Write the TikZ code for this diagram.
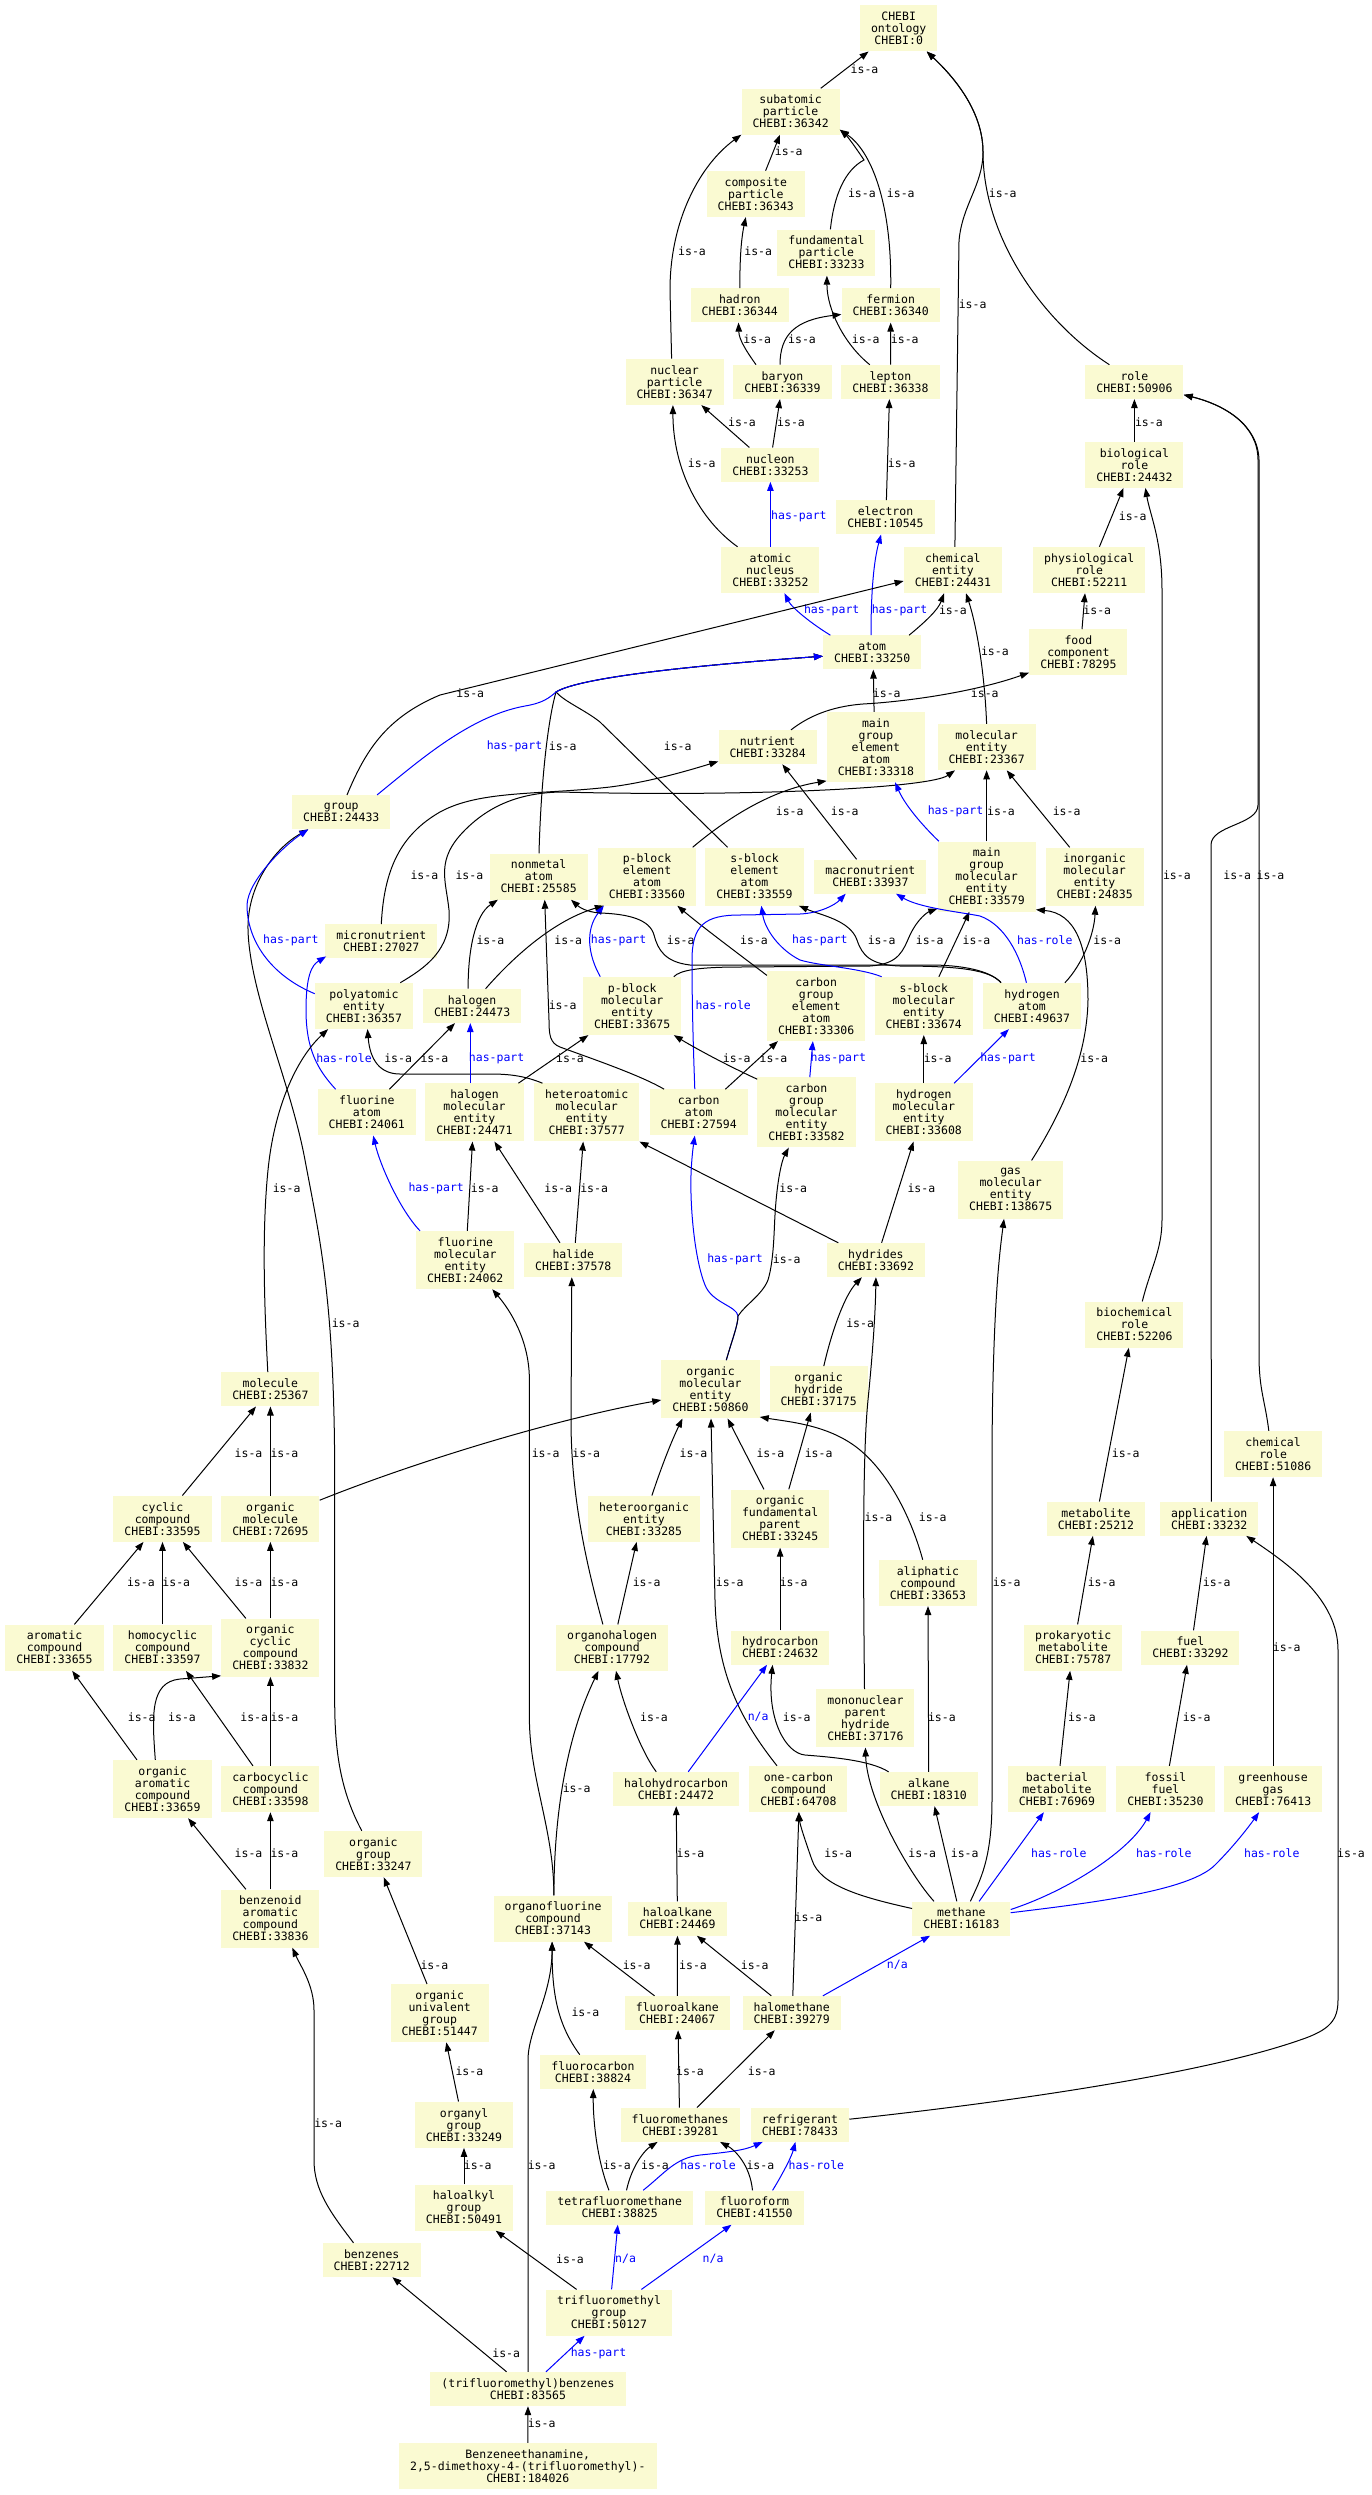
\documentclass[tikz,border=0pt]{standalone}
\usepackage{fontspec}
\setmonofont{DejaVu Sans Mono}
\usetikzlibrary{arrows.meta}
\definecolor{Pale}{RGB}{250,250,210}
\definecolor{Rel}{RGB}{0,0,255}

\begin{document}
\begin{tikzpicture}[x=1pt,y=-1pt,
  ent/.style={fill=Pale,font=\ttfamily\fontsize{11.5}{12}\selectfont,align=center,inner xsep=11pt,inner ysep=2pt},
  two/.style={ent,minimum height=34pt},
  three/.style={ent,minimum height=46pt},
  four/.style={ent,minimum height=58pt},
  five/.style={ent,minimum height=70pt},
  isa/.style={-{Triangle[length=9pt,width=6.5pt]},line width=1pt},
  rel/.style={isa,Rel},
  lab/.style={font=\ttfamily\fontsize{11.5}{12}\selectfont,inner sep=0pt},
  rlab/.style={lab,text=Rel}]
\path[fill=white] (0,0) rectangle (1372,2495);

\node[three] (ont) at (898.7,28.3) {CHEBI\\ontology\\CHEBI:0};
\node[three] (subat) at (790.6,111.5) {subatomic\\particle\\CHEBI:36342};
\node[three] (compp) at (755.8,193.9) {composite\\particle\\CHEBI:36343};
\node[three] (fundp) at (826.4,252.5) {fundamental\\particle\\CHEBI:33233};
\node[two] (hadron) at (739.8,305.4) {hadron\\CHEBI:36344};
\node[two] (fermion) at (890.7,305.4) {fermion\\CHEBI:36340};
\node[three] (nucpart) at (674.6,381.9) {nuclear\\particle\\CHEBI:36347};
\node[two] (baryon) at (782.5,381.9) {baryon\\CHEBI:36339};
\node[two] (lepton) at (890.5,381.9) {lepton\\CHEBI:36338};
\node[two] (role) at (1134.4,381.9) {role\\CHEBI:50906};
\node[two] (nucleon) at (770.4,464.7) {nucleon\\CHEBI:33253};
\node[three] (biorole) at (1134.4,464.7) {biological\\role\\CHEBI:24432};
\node[two] (electron) at (885.5,517.3) {electron\\CHEBI:10545};
\node[three] (nucleus) at (770.4,570) {atomic\\nucleus\\CHEBI:33252};
\node[three] (chement) at (952.9,570) {chemical\\entity\\CHEBI:24431};
\node[three] (physrole) at (1089.2,570) {physiological\\role\\CHEBI:52211};
\node[two] (atom) at (872.2,652.4) {atom\\CHEBI:33250};
\node[three] (foodcomp) at (1078.4,652.4) {food\\component\\CHEBI:78295};
\node[two] (nutrient) at (767.6,747.1) {nutrient\\CHEBI:33284};
\node[five] (mgeatom) at (875.9,747.1) {main\\group\\element\\atom\\CHEBI:33318};
\node[three] (molent) at (986.6,747.1) {molecular\\entity\\CHEBI:23367};
\node[two] (group) at (341.3,812.1) {group\\CHEBI:24433};
\node[three] (nonmetal) at (538.6,876.5) {nonmetal\\atom\\CHEBI:25585};
\node[four] (pbatom) at (647,876.5) {p-block\\element\\atom\\CHEBI:33560};
\node[four] (sbatom) at (754.5,876.5) {s-block\\element\\atom\\CHEBI:33559};
\node[two] (macronut) at (870.4,876.5) {macronutrient\\CHEBI:33937};
\node[five] (mgment) at (986.6,876.5) {main\\group\\molecular\\entity\\CHEBI:33579};
\node[four] (inorgment) at (1094.6,876.5) {inorganic\\molecular\\entity\\CHEBI:24835};
\node[two] (micronut) at (381.3,941.2) {micronutrient\\CHEBI:27027};
\node[three] (polyat) at (364,1005.9) {polyatomic\\entity\\CHEBI:36357};
\node[two] (halogen) at (472.1,1005.9) {halogen\\CHEBI:24473};
\node[four] (pbment) at (632.2,1005.9) {p-block\\molecular\\entity\\CHEBI:33675};
\node[five] (cgeatom) at (816.2,1005.9) {carbon\\group\\element\\atom\\CHEBI:33306};
\node[four] (sbment) at (923.8,1005.9) {s-block\\molecular\\entity\\CHEBI:33674};
\node[three] (hatom) at (1032,1005.9) {hydrogen\\atom\\CHEBI:49637};
\node[three] (fatom) at (366.8,1112.4) {fluorine\\atom\\CHEBI:24061};
\node[four] (halment) at (474.5,1112.4) {halogen\\molecular\\entity\\CHEBI:24471};
\node[four] (hetment) at (586.7,1112.4) {heteroatomic\\molecular\\entity\\CHEBI:37577};
\node[three] (catom) at (698.7,1112.4) {carbon\\atom\\CHEBI:27594};
\node[five] (cgment) at (806.5,1112.4) {carbon\\group\\molecular\\entity\\CHEBI:33582};
\node[four] (hment) at (923.8,1112.4) {hydrogen\\molecular\\entity\\CHEBI:33608};
\node[four] (gasment) at (1010.7,1189.6) {gas\\molecular\\entity\\CHEBI:138675};
\node[four] (fment) at (465.3,1260) {fluorine\\molecular\\entity\\CHEBI:24062};
\node[two] (halide) at (573.3,1260) {halide\\CHEBI:37578};
\node[two] (hydrides) at (875.9,1260) {hydrides\\CHEBI:33692};
\node[three] (biochrole) at (1134.4,1324.6) {biochemical\\role\\CHEBI:52206};
\node[two] (molecule) at (270.4,1389.3) {molecule\\CHEBI:25367};
\node[four] (orgment) at (710.5,1389.3) {organic\\molecular\\entity\\CHEBI:50860};
\node[three] (orghyd) at (818.6,1389.3) {organic\\hydride\\CHEBI:37175};
\node[three] (chemrole) at (1273.1,1454) {chemical\\role\\CHEBI:51086};
\node[three] (cyclic) at (162.5,1518.7) {cyclic\\compound\\CHEBI:33595};
\node[three] (orgmol) at (270.4,1518.7) {organic\\molecule\\CHEBI:72695};
\node[three] (hetorg) at (644,1518.7) {heteroorganic\\entity\\CHEBI:33285};
\node[four] (orgfp) at (780.1,1518.5) {organic\\fundamental\\parent\\CHEBI:33245};
\node[two] (metabolite) at (1096,1518.7) {metabolite\\CHEBI:25212};
\node[two] (application) at (1209.3,1518.7) {application\\CHEBI:33232};
\node[three] (aliphatic) at (927.9,1582.9) {aliphatic\\compound\\CHEBI:33653};
\node[three] (aromatic) at (54.5,1647.6) {aromatic\\compound\\CHEBI:33655};
\node[three] (homocyc) at (162.5,1647.6) {homocyclic\\compound\\CHEBI:33597};
\node[four] (orgcyc) at (270.4,1647.6) {organic\\cyclic\\compound\\CHEBI:33832};
\node[three] (orghal) at (612,1647.6) {organohalogen\\compound\\CHEBI:17792};
\node[two] (hydrocarbon) at (780.1,1647.6) {hydrocarbon\\CHEBI:24632};
\node[three] (prokmet) at (1073.2,1647.6) {prokaryotic\\metabolite\\CHEBI:75787};
\node[two] (fuel) at (1190.4,1647.6) {fuel\\CHEBI:33292};
\node[four] (mononuc) at (865.4,1718.3) {mononuclear\\parent\\hydride\\CHEBI:37176};
\node[four] (orgarom) at (162.5,1789) {organic\\aromatic\\compound\\CHEBI:33659};
\node[three] (carbocyc) at (270.4,1789) {carbocyclic\\compound\\CHEBI:33598};
\node[two] (halohyd) at (676,1789) {halohydrocarbon\\CHEBI:24472};
\node[three] (onecarbon) at (798.4,1789) {one-carbon\\compound\\CHEBI:64708};
\node[two] (alkane) at (928.8,1789) {alkane\\CHEBI:18310};
\node[three] (bactmet) at (1057,1789) {bacterial\\metabolite\\CHEBI:76969};
\node[three] (fossil) at (1165.5,1789) {fossil\\fuel\\CHEBI:35230};
\node[three] (greenhouse) at (1273.1,1789) {greenhouse\\gas\\CHEBI:76413};
\node[three] (orggroup) at (373.4,1854) {organic\\group\\CHEBI:33247};
\node[four] (benzenoid) at (270.4,1918.5) {benzenoid\\aromatic\\compound\\CHEBI:33836};
\node[three] (orgfluor) at (553,1918.5) {organofluorine\\compound\\CHEBI:37143};
\node[two] (haloalkane) at (677.5,1918.5) {haloalkane\\CHEBI:24469};
\node[two] (methane) at (961.4,1918.5) {methane\\CHEBI:16183};
\node[four] (orgunival) at (439.7,2013.1) {organic\\univalent\\group\\CHEBI:51447};
\node[two] (fluoroalk) at (677.3,2013) {fluoroalkane\\CHEBI:24067};
\node[two] (halometh) at (791.7,2013) {halomethane\\CHEBI:39279};
\node[two] (fluorocarbon) at (593,2071.8) {fluorocarbon\\CHEBI:38824};
\node[three] (organyl) at (464,2124.7) {organyl\\group\\CHEBI:33249};
\node[two] (fluorometh) at (680.1,2124.7) {fluoromethanes\\CHEBI:39281};
\node[two] (refrig) at (800,2124.7) {refrigerant\\CHEBI:78433};
\node[three] (haloalkyl) at (464,2207.5) {haloalkyl\\group\\CHEBI:50491};
\node[two] (tetrafm) at (619.7,2207.5) {tetrafluoromethane\\CHEBI:38825};
\node[two] (fluoroform) at (754.5,2207.5) {fluoroform\\CHEBI:41550};
\node[two] (benzenes) at (371.7,2260) {benzenes\\CHEBI:22712};
\node[three] (tfmgroup) at (609,2312.6) {trifluoromethyl\\group\\CHEBI:50127};
\node[two] (tfmbenz) at (528,2389) {(trifluoromethyl)benzenes\\CHEBI:83565};
\node[three] (target) at (527.8,2466) {Benzeneethanamine,\\2,5-dimethoxy-4-(trifluoromethyl)-\\CHEBI:184026};

\draw[isa] (subat) -- (ont) node[lab,at={(864.5,69)}] {is-a};
\draw[isa] ([xshift=2pt]chement.north) -- (959,241) .. controls (962,205) and (983,185) .. (983,152) .. controls (983,112) and (955,78) .. ([xshift=28pt]ont.south) node[lab,at={(972.6,304.6)}] {is-a};
\draw[isa] ([xshift=-25pt]role.north) .. controls (1040,320) and (983,235) .. (983,152) .. controls (983,112) and (955,78) .. ([xshift=28pt]ont.south) node[lab,at={(1002.8,193.3)}] {is-a};
\draw[isa] ([xshift=9.8pt]compp.north) -- ([xshift=-10.6pt]subat.south) node[lab,at={(788.8,151.5)}] {is-a};
\draw[isa] ([xshift=4pt]fundp.north) .. controls (834,195) and (845,170) .. (864,160) .. controls (856,148) and (848,137) .. ([yshift=5pt]subat.south east) node[lab,at={(861.9,193.3)}] {is-a};
\draw[isa] (fermion.north) .. controls (892,200) and (870,150) .. ([yshift=5pt]subat.south east) node[lab,at={(900.8,193.3)}] {is-a};
\draw[isa] (hadron.north) .. controls (739.8,260) and (741,240) .. ([xshift=-10pt]compp.south) node[lab,at={(758.2,251)}] {is-a};
\draw[isa] ([xshift=-3pt]nucpart.north) -- (670,290) .. controls (670,220) and (700,165) .. (subat.south west) node[lab,at={(692,251)}] {is-a};
\draw[isa] ([xshift=-26.5pt]baryon.north) .. controls (747,352) and (739,340) .. ([xshift=-1.3pt]hadron.south) node[lab,at={(757.3,339.5)}] {is-a};
\draw[isa] ([xshift=-2.5pt]baryon.north) .. controls (780,335) and (795,320) .. ([yshift=-9pt]fermion.west) node[lab,at={(802,339.5)}] {is-a};
\draw[isa] ([xshift=-20.7pt]lepton.north) .. controls (845,345) and (827,310) .. ([xshift=0.5pt]fundp.south) node[lab,at={(865.8,339.5)}] {is-a};
\draw[isa] (lepton) -- (fermion) node[lab,at={(904.8,339.5)}] {is-a};
\draw[isa] ([xshift=-21pt]nucleon.north) -- ([xshift=26.7pt]nucpart.south) node[lab,at={(742,422.3)}] {is-a};
\draw[isa] ([xshift=2.2pt]nucleon.north) -- ([xshift=-2.5pt]baryon.south) node[lab,at={(791,422.3)}] {is-a};
\draw[isa] ([xshift=0.9pt]electron.north) -- ([xshift=-1.1pt]lepton.south) node[lab,at={(901.7,462.9)}] {is-a};
\draw[isa] ([xshift=-32.8pt]nucleus.north) .. controls (700,520) and (673,470) .. ([xshift=-1.7pt]nucpart.south) node[lab,at={(701.8,462.9)}] {is-a};
\draw[rel] (nucleus) -- (nucleon) node[rlab,at={(798.9,516.3)}] {has-part};
\draw[isa] (biorole) -- (role) node[lab,at={(1148.9,422.3)}] {is-a};
\draw[isa] ([xshift=10.2pt]physrole.north) -- ([xshift=-10.9pt]biorole.south) node[lab,at={(1132.7,516.3)}] {is-a};
\draw[isa] ([xshift=3.6pt]foodcomp.north) -- ([xshift=-4.2pt]physrole.south) node[lab,at={(1097.3,610.3)}] {is-a};
\draw[isa] ([xshift=7.9pt]biochrole.north) .. controls (1150,1270) and (1162,1250) .. (1162,1220) -- (1162,590) .. controls (1162,540) and (1150,515) .. ([xshift=11pt]biorole.south) node[lab,at={(1176.9,875.5)}] {is-a};
\draw[isa] ([xshift=2pt]application.north) -- (1211,845) .. controls (1211,825) and (1258,825) .. (1258,805) -- (1258,460) .. controls (1258,425) and (1225,405) .. ([yshift=4.3pt]role.south east) node[lab,at={(1237.3,875.5)}] {is-a};
\draw[isa] ([xshift=-4.3pt]chemrole.north) .. controls (1265,1400) and (1259,1390) .. (1259,1355) -- (1259,460) .. controls (1258,425) and (1225,405) .. ([yshift=4.3pt]role.south east) node[lab,at={(1270.5,875.5)}] {is-a};
\draw[isa] ([xshift=36.9pt]atom.north) .. controls (925,622) and (938,610) .. ([xshift=-8.8pt]chement.south) node[lab,at={(952.9,610.3)}] {is-a};
\draw[isa] (molent.north) .. controls (985,680) and (978,630) .. ([xshift=13.1pt]chement.south) node[lab,at={(994.9,651)}] {is-a};
\draw[rel] ([xshift=-41.8pt]atom.north) .. controls (812,624) and (792,608) .. ([xshift=14pt]nucleus.south) node[rlab,at={(831.7,610.3)}] {has-part};
\draw[rel] ([xshift=-1.2pt]atom.north) .. controls (871,590) and (874,560) .. ([xshift=-4.4pt]electron.south) node[rlab,at={(899.5,610.3)}] {has-part};
\draw[isa] ([xshift=5.7pt]group.north) .. controls (365,752) and (385,718) .. (440,695) -- ([yshift=-11pt]chement.west) node[lab,at={(470.3,693.5)}] {is-a};
\draw[isa] ([xshift=0.4pt]nonmetal.north) .. controls (541,780) and (548,720) .. (556,692) .. controls (580,677) and (700,665) .. ([yshift=-3.8pt]atom.west) node[lab,at={(562.7,746.7)}] {is-a};
\draw[isa] ([xshift=-26.9pt]sbatom.north) -- (600,722) .. controls (585,710) and (565,702) .. (556,692) .. controls (580,677) and (700,665) .. ([yshift=-3.8pt]atom.west) node[lab,at={(677.7,746.7)}] {is-a};
\draw[rel] ([xshift=35.8pt]group.north) .. controls (420,760) and (470,716) .. (525,706) .. controls (543,703) and (549,698) .. (556,692) .. controls (580,677) and (700,665) .. ([yshift=-3.8pt]atom.west) node[rlab,at={(514.5,746.2)}] {has-part};
\draw[isa] ([xshift=-1.8pt]mgeatom.north) -- ([xshift=1.1pt]atom.south) node[lab,at={(886.8,693.5)}] {is-a};
\draw[isa] ([xshift=23.4pt]nutrient.north) .. controls (810,715) and (835,705) .. (870,703.6) .. controls (920,700) and (980,690) .. ([yshift=3pt]foodcomp.south west) node[lab,at={(984.8,693.5)}] {is-a};
\draw[isa] (micronut.north) .. controls (384,870) and (400,835) .. (440,812) .. controls (480,790) and (540,795) .. (610,787) .. controls (650,782) and (690,770) .. ([yshift=-14.3pt]nutrient.west) node[lab,at={(424.4,875.1)}] {is-a};
\draw[isa] ([xshift=36.3pt]polyat.north) .. controls (425,968) and (452,950) .. (449,910) .. controls (446,880) and (435,860) .. (465,830) .. controls (490,805) and (520,793) .. (560,792) .. controls (750,797) and (930,788) .. ([xshift=-31.6pt]molent.south) node[lab,at={(469.4,875.1)}] {is-a};
\draw[isa] ([xshift=45.6pt]pbatom.north) .. controls (725,820) and (770,790) .. ([yshift=1.4pt]mgeatom.south west) node[lab,at={(789.7,811.3)}] {is-a};
\draw[isa] ([xshift=-13.8pt]macronut.north) -- ([xshift=14.7pt]nutrient.south) node[lab,at={(844.8,811.3)}] {is-a};
\draw[rel] ([xshift=-47.7pt]mgment.north) .. controls (922,825) and (905,805) .. ([xshift=19.2pt]mgeatom.south) node[rlab,at={(955.5,811.3)}] {has-part};
\draw[isa] (mgment) -- (molent) node[lab,at={(1001,811.3)}] {is-a};
\draw[isa] ([xshift=-24.9pt]inorgment.north) -- ([xshift=20.1pt]molent.south) node[lab,at={(1066.6,811.3)}] {is-a};
\draw[isa] ([xshift=-4pt]halogen.north) .. controls (468,950) and (475,915) .. ([xshift=-40.7pt]nonmetal.south) node[lab,at={(490.4,940.2)}] {is-a};
\draw[isa] ([xshift=13.5pt]halogen.north) .. controls (515,955) and (555,920) .. ([xshift=-43.2pt]pbatom.south) node[lab,at={(568.3,940.2)}] {is-a};
\draw[rel] ([xshift=-31.2pt]fatom.north) .. controls (318,1070) and (306,1050) .. (306,1010) .. controls (306,975) and (312,965) .. ([xshift=1pt,yshift=2pt]micronut.south west) node[rlab,at={(344,1058.4)}] {has-role};
\draw[isa] ([xshift=-11.6pt]orggroup.north) .. controls (340,1790) and (334.7,1750) .. (334.7,1700) -- (334.7,1480) .. controls (334.7,1300) and (320,1240) .. (305,1160) .. controls (290,1080) and (250,995) .. (248,930) .. controls (247,885) and (275,848) .. ([xshift=-33pt]group.south) node[lab,at={(345.6,1323.6)}] {is-a};
\draw[rel] ([yshift=12.2pt]polyat.west) .. controls (270,975) and (247,940) .. (247,905) .. controls (248,880) and (285,845) .. ([xshift=-33pt]group.south) node[rlab,at={(290.9,940.2)}] {has-part};
\draw[isa] ([xshift=-2.6pt]molecule.north) .. controls (264,1300) and (262,1230) .. (268,1170) .. controls (274,1110) and (295,1060) .. ([xshift=-35.9pt]polyat.south) node[lab,at={(286.6,1188.1)}] {is-a};
\draw[isa] ([xshift=22.6pt]fatom.north) -- ([xshift=-17.1pt]halogen.south) node[lab,at={(434.4,1058.4)}] {is-a};
\draw[isa] ([xshift=-44.2pt]hetment.north) .. controls (525,1076) and (510,1074) .. (490,1074) -- (400,1074) .. controls (380,1074) and (370,1060) .. ([xshift=3.5pt]polyat.south) node[lab,at={(398.1,1058.4)}] {is-a};
\draw[rel] ([xshift=-4.2pt]halment.north) -- ([xshift=-1.8pt]halogen.south) node[rlab,at={(496.6,1058.4)}] {has-part};
\draw[isa] ([xshift=43.9pt]halment.north) -- ([xshift=-43.8pt]pbment.south) node[lab,at={(570,1058.4)}] {is-a};
\draw[rel] ([xshift=-31.9pt]pbment.north) .. controls (588,955) and (585,930) .. ([xshift=-43.2pt]pbatom.south) node[rlab,at={(618.6,940.2)}] {has-part};
\draw[isa] ([xshift=-34.6pt]catom.north) .. controls (640,1075) and (590,1058) .. (560,1047) .. controls (550,1043) and (549,1035) .. (549,1020) -- ([xshift=6.1pt]nonmetal.south) node[lab,at={(562.6,1004.9)}] {is-a};
\draw[isa] ([yshift=-4.7pt]cgeatom.north west) .. controls (740,955) and (700,925) .. ([xshift=30.3pt]pbatom.south) node[lab,at={(754,940.3)}] {is-a};
\draw[isa] ([xshift=-31pt]hatom.north) .. controls (990,970) and (960,965) .. (930,965) -- (690,965) .. controls (665,962) and (658,950) .. (654,935) .. controls (650,920) and (630,914) .. (600,913) .. controls (585,912) and (578,906) .. ([xshift=32.4pt]nonmetal.south) node[lab,at={(680.7,940.3)}] {is-a};
\draw[isa] ([xshift=-31pt]hatom.north) .. controls (990,970) and (960,966) .. (900,966) .. controls (870,965) and (862,955) .. (857,940) .. controls (850,920) and (820,915) .. ([xshift=44.4pt]sbatom.south) node[lab,at={(881.6,940.2)}] {is-a};
\draw[isa] ([xshift=41.6pt]pbment.north) .. controls (680,970) and (700,967) .. (740,967) -- (870,966) .. controls (900,964) and (903,950) .. (910,935) .. controls (918,918) and (928,912) .. ([yshift=3pt]mgment.south west) node[lab,at={(929.7,940.2)}] {is-a};
\draw[isa] ([xshift=15.1pt]sbment.north) -- ([xshift=-17.1pt]mgment.south) node[lab,at={(976.5,940.2)}] {is-a};
\draw[isa] ([xshift=32.9pt]hatom.north) .. controls (1082,965) and (1094,935) .. ([xshift=0.9pt]inorgment.south) node[lab,at={(1107.3,940.2)}] {is-a};
\draw[rel] ([xshift=-5.6pt]hatom.north) .. controls (1020,955) and (1005,925) .. (980,916) .. controls (960,912) and (920,908) .. ([xshift=25.6pt]macronut.south) node[rlab,at={(1044.8,940.2)}] {has-role};
\draw[rel] ([xshift=-42.2pt]sbment.north) .. controls (860,968) and (820,966) .. (800,960) .. controls (780,950) and (765,930) .. ([xshift=6.8pt]sbatom.south) node[rlab,at={(819.9,940.2)}] {has-part};
\draw[rel] ([xshift=-3.9pt]catom.north) .. controls (693,1040) and (692,1000) .. (692,960) .. controls (692,925) and (705,915) .. (740,915) -- (800,914) .. controls (820,913) and (835,905) .. ([xshift=-24.7pt]macronut.south) node[rlab,at={(723.2,1004.9)}] {has-role};
\draw[isa] ([xshift=26.7pt]catom.north) -- ([xshift=-38.3pt]cgeatom.south) node[lab,at={(736.8,1058.4)}] {is-a};
\draw[isa] ([yshift=-2pt]cgment.north west) .. controls (720,1062) and (690,1045) .. ([xshift=41.6pt]pbment.south) node[lab,at={(773.5,1058.4)}] {is-a};
\draw[rel] ([xshift=3.3pt]cgment.north) -- ([xshift=-3.3pt]cgeatom.south) node[rlab,at={(838.3,1058.4)}] {has-part};
\draw[isa] (hment) -- (sbment) node[lab,at={(937.6,1058.4)}] {is-a};
\draw[rel] ([xshift=30.4pt]hment.north) -- ([xshift=-23.1pt]hatom.south) node[rlab,at={(1008,1058.4)}] {has-part};
\draw[isa] ([xshift=20.9pt]gasment.north) .. controls (1060,1115) and (1087,1060) .. (1088,1000) .. controls (1088,945) and (1075,913) .. ([yshift=2pt]mgment.south east) node[lab,at={(1094.2,1058.4)}] {is-a};
\draw[rel] ([xshift=-45.3pt]fment.north) .. controls (400,1210) and (380,1165) .. ([xshift=6.4pt]fatom.south) node[rlab,at={(436.2,1188.1)}] {has-part};
\draw[isa] ([xshift=2pt]fment.north) -- ([xshift=-2pt]halment.south) node[lab,at={(484.8,1188.1)}] {is-a};
\draw[isa] ([xshift=-13.3pt]halide.north) -- ([xshift=19.9pt]halment.south) node[lab,at={(558.3,1188.1)}] {is-a};
\draw[isa] ([xshift=2pt]halide.north) -- ([xshift=-3.5pt]hetment.south) node[lab,at={(594.1,1188.1)}] {is-a};
\draw[isa] ([xshift=-37.6pt]hydrides.north) -- (hetment.south east) node[lab,at={(793.3,1188.3)}] {is-a};
\draw[rel] ([xshift=15.8pt]orgment.north) .. controls (732,1340) and (738,1325) .. (738,1316) .. controls (737,1306) and (712,1303) .. (705,1285) .. controls (695,1260) and (690,1210) .. (691,1175) .. controls (691.5,1160) and (693,1148) .. ([xshift=-3.9pt]catom.south) node[rlab,at={(735,1259.3)}] {has-part};
\draw[isa] ([xshift=15.8pt]orgment.north) .. controls (732,1340) and (738,1325) .. (738,1316) .. controls (745,1305) and (762,1295) .. (768,1280) .. controls (774,1260) and (774,1230) .. (775,1215) .. controls (777,1180) and (782,1160) .. ([xshift=-17.7pt]cgment.south) node[lab,at={(786.7,1259.3)}] {is-a};
\draw[isa] ([xshift=5.7pt]hydrides.north) -- ([xshift=-10.3pt]hment.south) node[lab,at={(921.4,1188.1)}] {is-a};
\draw[isa] ([xshift=9pt]methane.north) .. controls (980,1880) and (992,1860) .. (992,1800) -- (992,1450) .. controls (993,1300) and (1000,1250) .. ([xshift=-6.7pt]gasment.south) node[lab,at={(1006.7,1582.3)}] {is-a};
\draw[isa] ([xshift=0.9pt]orgfluor.north) .. controls (554,1830) and (530,1780) .. (529.4,1720) -- (529.4,1380) .. controls (529.4,1340) and (510,1310) .. ([xshift=26.9pt]fment.south) node[lab,at={(545.6,1453.4)}] {is-a};
\draw[isa] ([xshift=-9.1pt]orghal.north) .. controls (588,1570) and (571,1500) .. (571,1420) -- ([xshift=-1.5pt]halide.south) node[lab,at={(586.3,1453.4)}] {is-a};
\draw[isa] ([yshift=-4.7pt]orgmol.north east) .. controls (420,1460) and (560,1418) .. ([yshift=-10.7pt]orgment.west);
\draw[isa] (orgmol) -- (molecule) node[lab,at={(284.4,1453.4)}] {is-a};
\draw[isa] ([xshift=19.9pt]cyclic.north) -- ([xshift=-14.4pt]molecule.south) node[lab,at={(248.5,1453.4)}] {is-a};
\draw[isa] ([xshift=7.9pt]hetorg.north) .. controls (662,1465) and (672,1440) .. ([xshift=-28pt]orgment.south) node[lab,at={(693.5,1453.4)}] {is-a};
\draw[isa] ([xshift=-16.2pt]orgfp.north) -- ([xshift=17.1pt]orgment.south) node[lab,at={(770.4,1453.4)}] {is-a};
\draw[isa] ([xshift=8.7pt]orgfp.north) -- ([xshift=-7.9pt]orghyd.south) node[lab,at={(818.6,1453.4)}] {is-a};
\draw[isa] ([xshift=5.2pt]orghyd.north) .. controls (832,1330) and (845,1295) .. ([xshift=-14pt]hydrides.south) node[lab,at={(860.1,1323.6)}] {is-a};
\draw[isa] ([xshift=-0.9pt]mononuc.north) .. controls (863,1550) and (863,1450) .. (868,1400) .. controls (873,1350) and (875.5,1310) .. (hydrides.south) node[lab,at={(878.5,1517.2)}] {is-a};
\draw[isa] ([xshift=-5.2pt]aliphatic.north) .. controls (912,1520) and (890,1475) .. (860,1450) .. controls (830,1425) and (790,1422) .. ([yshift=1.5pt]orgment.south east) node[lab,at={(932.8,1517.2)}] {is-a};
\draw[isa] ([xshift=-21.4pt]onecarbon.north) .. controls (745,1725) and (717,1680) .. (715,1600) -- ([xshift=0.5pt]orgment.south) node[lab,at={(729.8,1582.3)}] {is-a};
\draw[isa] (hydrocarbon) -- (orgfp) node[lab,at={(793.6,1582.3)}] {is-a};
\draw[isa] ([xshift=3.4pt]metabolite.north) -- ([xshift=-5.6pt]biochrole.south) node[lab,at={(1125.7,1453.4)}] {is-a};
\draw[isa] ([xshift=4.4pt]prokmet.north) -- ([xshift=-3.1pt]metabolite.south) node[lab,at={(1101.6,1582.3)}] {is-a};
\draw[isa] ([xshift=3.1pt]fuel.north) -- ([xshift=-2.7pt]application.south) node[lab,at={(1216.7,1582.3)}] {is-a};
\draw[isa] ([yshift=5.5pt]refrig.east) .. controls (1000,2103) and (1200,2075) .. (1300,2040) .. controls (1330,2030) and (1338,2020) .. (1338,2000) -- (1338,1650) .. controls (1338,1600) and (1290,1565) .. ([xshift=-12.3pt]application.south east) node[lab,at={(1351,1853.5)}] {is-a};
\draw[isa] (greenhouse) -- (chemrole) node[lab,at={(1286.7,1647)}] {is-a};
\draw[isa] ([xshift=-19.75pt]halohyd.north) .. controls (640,1750) and (622,1700) .. ([xshift=4pt]orghal.south) node[lab,at={(654,1717.3)}] {is-a};
\draw[isa] ([xshift=0.9pt]orgfluor.north) .. controls (554,1820) and (565,1740) .. ([xshift=-13.5pt]orghal.south) node[lab,at={(576.6,1788)}] {is-a};
\draw[isa] ([xshift=5.8pt]orghal.north) -- ([xshift=-7.4pt]hetorg.south) node[lab,at={(646.6,1582.3)}] {is-a};
\draw[isa] ([xshift=-24.5pt]orgcyc.north) -- ([xshift=20.4pt]cyclic.south) node[lab,at={(248.5,1582.3)}] {is-a};
\draw[isa] (orgcyc) -- (orgmol) node[lab,at={(284.4,1582.3)}] {is-a};
\draw[isa] (homocyc) -- (cyclic) node[lab,at={(176.3,1582.3)}] {is-a};
\draw[isa] ([xshift=19.9pt]aromatic.north) -- ([xshift=-19pt]cyclic.south) node[lab,at={(140.9,1582.3)}] {is-a};
\draw[isa] ([xshift=-25.6pt]orgarom.north) -- ([xshift=17.7pt]aromatic.south) node[lab,at={(141.7,1717.3)}] {is-a};
\draw[isa] ([xshift=-7.2pt]orgarom.north) .. controls (152,1715) and (150,1682) .. (180,1679) -- ([yshift=1pt]orgcyc.south west) node[lab,at={(182,1717.3)}] {is-a};
\draw[isa] ([xshift=-17.5pt]carbocyc.north) -- ([xshift=23.5pt]homocyc.south) node[lab,at={(254.2,1717.3)}] {is-a};
\draw[isa] (carbocyc) -- (orgcyc) node[lab,at={(284.4,1717.3)}] {is-a};
\draw[isa] ([xshift=-24.5pt]benzenoid.north) -- ([xshift=25.6pt]orgarom.south) node[lab,at={(248.5,1853.5)}] {is-a};
\draw[isa] (benzenoid) -- (carbocyc) node[lab,at={(284.4,1853.5)}] {is-a};
\draw[isa] ([xshift=-12.7pt]orgunival.north) -- ([xshift=10.3pt]orggroup.south) node[lab,at={(434.4,1965.3)}] {is-a};
\draw[isa] ([xshift=-5.5pt]organyl.north) -- ([xshift=6.6pt]orgunival.south) node[lab,at={(469.4,2071.4)}] {is-a};
\draw[isa] (haloalkyl) -- (organyl) node[lab,at={(477.8,2165.4)}] {is-a};
\draw[isa] ([xshift=-18.2pt]benzenes.north) .. controls (330,2212) and (314,2190) .. (314,2160) -- (314,2010) .. controls (314,1985) and (300,1965) .. ([xshift=21.9pt]benzenoid.south) node[lab,at={(328.1,2123.3)}] {is-a};
\draw[isa] ([xshift=-21.4pt]tfmbenz.north) -- ([xshift=20.7pt]benzenes.south) node[lab,at={(506.2,2353.3)}] {is-a};
\draw[isa] (tfmbenz.north) -- (528,2060) .. controls (528,2030) and (552,1995) .. ([xshift=-0.9pt]orgfluor.south) node[lab,at={(541.6,2165.4)}] {is-a};
\draw[rel] ([xshift=18pt]tfmbenz.north) -- ([xshift=-24.5pt]tfmgroup.south) node[rlab,at={(598.5,2353.3)}] {has-part};
\draw[isa] (target) -- (tfmbenz) node[lab,at={(541.6,2423.4)}] {is-a};
\draw[isa] ([xshift=-32.4pt]tfmgroup.north) -- ([xshift=31.7pt]haloalkyl.south) node[lab,at={(570,2259.3)}] {is-a};
\draw[rel] ([xshift=2.6pt]tfmgroup.north) -- ([xshift=-1.9pt]tetrafm.south) node[rlab,at={(625.6,2259.3)}] {n/a};
\draw[rel] ([xshift=32.4pt]tfmgroup.north) -- ([xshift=-23pt]fluoroform.south) node[rlab,at={(713.1,2259.3)}] {n/a};
\draw[isa] ([xshift=-10.7pt]tetrafm.north) .. controls (597,2160) and (593,2120) .. ([xshift=0.3pt]fluorocarbon.south) node[lab,at={(616.9,2165.4)}] {is-a};
\draw[isa] ([xshift=6.8pt]tetrafm.north) .. controls (632,2165) and (645,2150) .. ([xshift=-22.5pt]fluorometh.south) node[lab,at={(655,2165.4)}] {is-a};
\draw[rel] ([xshift=23.4pt]tetrafm.north) .. controls (665,2173) and (675,2158) .. (700,2155) .. controls (730,2152) and (745,2150) .. ([xshift=-37.4pt]refrig.south) node[rlab,at={(708,2165.4)}] {has-role};
\draw[isa] ([xshift=-2pt]fluoroform.north) .. controls (750,2165) and (735,2150) .. ([xshift=40pt]fluorometh.south) node[lab,at={(760.4,2165.4)}] {is-a};
\draw[rel] ([xshift=18.1pt]fluoroform.north) .. controls (785,2170) and (792,2155) .. ([xshift=-4.6pt]refrig.south) node[rlab,at={(816.4,2165.4)}] {has-role};
\draw[isa] ([xshift=-0.7pt]fluorometh.north) -- ([xshift=0.8pt]fluoroalk.south) node[lab,at={(690,2071.4)}] {is-a};
\draw[isa] ([xshift=16.9pt]fluorometh.north) -- ([xshift=-16.9pt]halometh.south) node[lab,at={(761.7,2071.4)}] {is-a};
\draw[isa] (fluoroalk) -- (haloalkane) node[lab,at={(693,1965.3)}] {is-a};
\draw[isa] ([xshift=-22.8pt]fluoroalk.north) -- ([xshift=31pt]orgfluor.south) node[lab,at={(636.6,1965.3)}] {is-a};
\draw[isa] ([xshift=-13.3pt]fluorocarbon.north) .. controls (558,2025) and (552,1995) .. ([xshift=-0.9pt]orgfluor.south) node[lab,at={(585.4,2012.3)}] {is-a};
\draw[isa] ([xshift=-20.4pt]halometh.north) -- ([xshift=19.4pt]haloalkane.south) node[lab,at={(754.7,1965.3)}] {is-a};
\draw[isa] ([xshift=1.1pt]halometh.north) -- ([xshift=0.5pt]onecarbon.south) node[lab,at={(808.5,1917.5)}] {is-a};
\draw[rel] ([xshift=31.2pt]halometh.north) -- ([xshift=-31.3pt]methane.south) node[rlab,at={(897.3,1965.3)}] {n/a};
\draw[isa] (haloalkane) -- (halohyd) node[lab,at={(690.5,1853.5)}] {is-a};
\draw[rel] ([xshift=12.2pt]halohyd.north) -- ([xshift=-13.1pt]hydrocarbon.south) node[rlab,at={(758.2,1717.3)}] {n/a};
\draw[isa] ([xshift=-40.2pt]alkane.north) .. controls (870,1760) and (830,1757) .. (805,1755) .. controls (785,1753) and (767,1718) .. ([xshift=-7.5pt]hydrocarbon.south) node[lab,at={(796.7,1717.3)}] {is-a};
\draw[isa] (alkane) -- (aliphatic) node[lab,at={(941.9,1717.3)}] {is-a};
\draw[isa] ([xshift=-4.6pt]methane.north) -- ([xshift=5.7pt]alkane.south) node[lab,at={(964.7,1853.5)}] {is-a};
\draw[isa] ([xshift=-27.4pt]methane.north) .. controls (910,1875) and (867,1800) .. (mononuc.south) node[lab,at={(922.3,1853.5)}] {is-a};
\draw[isa] ([yshift=10pt]methane.west) .. controls (860,1897) and (820,1885) .. (812,1860) .. controls (805,1840) and (800,1825) .. ([xshift=0.5pt]onecarbon.south) node[lab,at={(838.3,1853.5)}] {is-a};
\draw[rel] ([xshift=17.7pt]methane.north) -- ([xshift=-13.1pt]bactmet.south) node[rlab,at={(1058.8,1853.5)}] {has-role};
\draw[rel] ([yshift=9pt]methane.east) .. controls (1070,1890) and (1130,1850) .. ([xshift=-14.9pt]fossil.south) node[rlab,at={(1163.8,1853.5)}] {has-role};
\draw[rel] ([yshift=5.8pt]methane.east) .. controls (1100,1902) and (1190,1890) .. (1215,1865) .. controls (1235,1845) and (1250,1825) .. ([xshift=-14pt]greenhouse.south) node[rlab,at={(1271.8,1853.5)}] {has-role};
\draw[isa] ([xshift=3pt]bactmet.north) -- ([xshift=-3.1pt]prokmet.south) node[lab,at={(1082,1717.3)}] {is-a};
\draw[isa] ([xshift=3.9pt]fossil.north) -- ([xshift=-3.4pt]fuel.south) node[lab,at={(1196.6,1717.3)}] {is-a};
\end{tikzpicture}
\end{document}
